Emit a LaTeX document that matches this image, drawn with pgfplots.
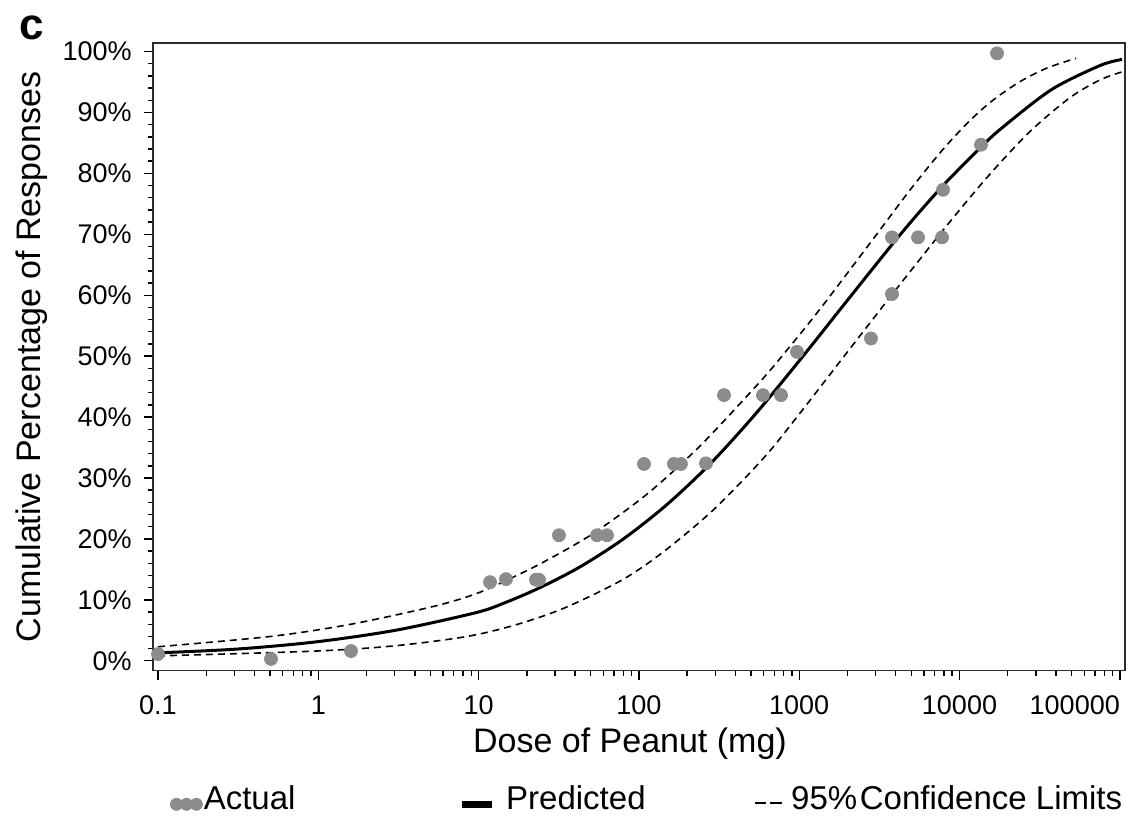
\documentclass[border=0pt]{standalone}
\usepackage{fontspec}
\setmainfont{Liberation Sans}
\usepackage{pgfplots}
\pgfplotsset{compat=1.18}
\definecolor{dotgray}{RGB}{140,140,140}
\definecolor{boxline}{RGB}{45,45,45}

\begin{document}
\begin{tikzpicture}
\path[use as bounding box] (-76.5pt,-72.75pt) rectangle (495pt,335.25pt);
\begin{axis}[
  at={(0pt,0pt)}, anchor=south west,
  scale only axis, width=486pt, height=313.75pt,
  xmode=log, xmin=0.09307, xmax=107760,
  ymin=-1.6, ymax=101.4,
  xtick={0.1,1,10,100,1000,10000,100000},
  xticklabels={0.1,1,10,100,1000,10000,\makebox[0pt][r]{100000}},
  minor xtick={0.2,0.3,0.4,0.5,0.6,0.7,0.8,0.9,
    2,3,4,5,6,7,8,9,20,30,40,50,60,70,80,90,
    200,300,400,500,600,700,800,900,2000,3000,4000,5000,6000,7000,8000,9000,
    20000,30000,40000,50000,60000,70000,80000,90000},
  ytick={0,10,20,30,40,50,60,70,80,90,100},
  yticklabels={0\%,10\%,20\%,30\%,40\%,50\%,60\%,70\%,80\%,90\%,100\%},
  minor y tick num=4,
  tick align=outside, tick pos=left,
  major tick length=4.5pt, minor tick length=2.5pt,
  tick style={black, line width=0.7pt},
  axis line style={boxline, line width=0.9pt},
  tick label style={font=\fontsize{13.5}{16}\selectfont, inner sep=0pt},
  yticklabel style={xshift=-6pt},
  xticklabel style={yshift=-8pt},
  xlabel={Dose of Peanut (mg)},
  ylabel={Cumulative Percentage of Responses},
  every axis x label/.style={at={(axis description cs:0.4907,-0.117)}, anchor=center,
    font=\fontsize{17}{20}\selectfont},
  every axis y label/.style={at={(axis description cs:-0.1245,0.5)}, rotate=90, anchor=center,
    font=\fontsize{17}{20}\selectfont},
  legend columns=3, legend cell align=left,
  legend style={draw=none, fill=none, inner sep=0pt, outer sep=0pt,
    at={(axis description cs:0.0175,-0.2032)}, anchor=west,
    font=\fontsize{16.5}{19}\selectfont,
    nodes={inner sep=0pt, text height=12pt, text depth=0pt},
    /tikz/every even column/.append style={column sep=0pt}},
]

% observed responses
\addplot[only marks, mark=*, mark size=3.25pt,
  mark options={fill=dotgray, draw=dotgray},
  legend image code/.code={
    \fill[dotgray] (3pt,-3.5pt) circle[radius=3pt];
    \fill[dotgray] (8pt,-3.5pt) circle[radius=3pt];
    \fill[dotgray] (13pt,-3.5pt) circle[radius=3pt];}]
  coordinates {
  (0.1,1.1) (0.507,0.3) (1.60,1.6) (11.78,12.9) (14.83,13.4)
  (22.81,13.3) (23.81,13.3) (31.73,20.6) (54.79,20.6) (63.23,20.6)
  (107.6,32.3) (165.5,32.3) (183.0,32.3) (262.2,32.4)
  (339.6,43.6) (594.6,43.6) (769.9,43.6) (968.9,50.7)
  (2804,52.9) (3791,60.2) (3791,69.5) (5510,69.5) (7780,69.5)
  (7893,77.3) (13620,84.7) (17140,99.7)
};
\addlegendentry{\hspace*{0.5pt}\makebox[127.5pt][l]{Actual}}

% predicted curve
\addplot[black, line width=1.5pt, smooth,
  legend image code/.code={
    \draw[line width=3.2pt] (0pt,-3.5pt) -- (15pt,-3.5pt);}]
  coordinates {
  (0.1,1.3) (0.3111,1.92) (0.9815,3.12) (3.053,5.02) (9.634,7.9)
  (14.83,9.6) (24.16,12.01) (42.91,15.41) (79.59,19.95) (149.8,25.65)
  (285.8,32.63) (545.5,40.8) (1056,50.0) (2074,59.7) (3791,68.3)
  (5431,73.2) (7893,78.0) (10366,81.2) (13620,84.3) (17890,87.2)
  (37230,93.7) (75230,97.7) (103210,98.7)
};
\addlegendentry{\hspace*{5.5pt}\makebox[124pt][l]{Predicted}}

% upper 95% limit
\addplot[black, line width=0.8pt, dash pattern=on 3.5pt off 2.5pt, smooth,
  legend image code/.code={
    \draw[solid, line width=1pt] (0pt,-3pt) -- (5.5pt,-3pt);
    \draw[solid, line width=1pt] (7.5pt,-3pt) -- (13.5pt,-3pt);}]
  coordinates {
  (0.1,2.3) (0.5069,4.0) (1.5995,6.0) (5.195,8.9) (9.634,11.0)
  (16.39,13.7) (26.72,16.51) (51.72,20.88) (112.4,27.36) (240.6,35.26)
  (569.4,45.79) (827.3,50.8) (1348,57.73) (2764,68.53) (4912,77.27)
  (7893,83.95) (11630,88.68) (16180,92.02) (23850,95.06) (35140,97.29)
  (53300,98.89)
};
\addlegendentry{\hspace*{4pt}95\%\hspace{0.08em}Confidence Limits}

% lower 95% limit
\addplot[black, line width=0.8pt, dash pattern=on 3.5pt off 2.5pt, smooth, forget plot]
  coordinates {
  (0.1,0.8) (0.9004,1.56) (2.882,2.41) (8.347,3.96) (17.11,5.91)
  (34.58,8.70) (78.45,13.26) (141.4,17.83) (289.9,24.71) (594.6,33.16)
  (955.1,39.81) (1987,50.6) (4255,61.78) (8726,72.08) (15490,79.88)
  (27540,86.88) (48910,92.44) (75230,95.34) (103210,96.66)
};
\end{axis}
\node[font=\fontsize{22}{26}\selectfont\bfseries] at (-60.5pt,321.25pt) {c};
\end{tikzpicture}
\end{document}
